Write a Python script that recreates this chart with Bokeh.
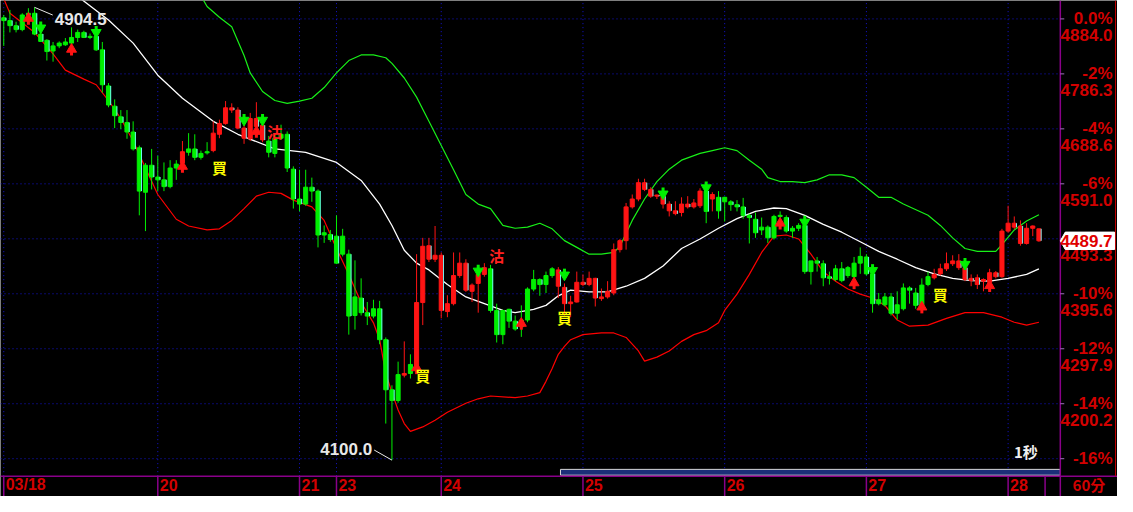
from bokeh.plotting import figure
from bokeh.models import ColumnDataSource
from bokeh.core.properties import value
from bokeh.transform import dodge
from bokeh.embed import file_html
from bokeh.resources import INLINE

# ---------------- data (60-minute candles) ----------------
opens = [4886, 4881, 4872, 4865, 4891, 4894, 4857, 4846, 4827, 4836, 4838, 4841, 4851, 4860, 4851, 4853, 4829, 4765, 4729, 4710,
         4700, 4683, 4655, 4576, 4624, 4603, 4598, 4586, 4619, 4628, 4647, 4653, 4638, 4646, 4650, 4679, 4698, 4726, 4722, 4690,
         4671, 4707, 4695, 4667, 4645, 4672, 4679, 4617, 4564, 4555, 4585, 4578, 4500, 4501, 4498, 4466, 4466, 4357, 4388, 4362,
         4356, 4369, 4314, 4225, 4206, 4251, 4254, 4268, 4380, 4481, 4457, 4464, 4364, 4378, 4428, 4450, 4400, 4414, 4430, 4440,
         4366, 4323, 4368, 4347, 4337, 4349, 4404, 4421, 4412, 4428, 4438, 4407, 4378, 4381, 4416, 4412, 4423, 4387, 4390, 4397,
         4474, 4490, 4550, 4564, 4593, 4581, 4571, 4569, 4555, 4543, 4540, 4555, 4550, 4552, 4578, 4564, 4567, 4559, 4559, 4554,
         4550, 4535, 4528, 4509, 4514, 4495, 4533, 4531, 4507, 4512, 4517, 4435, 4454, 4449, 4426, 4421, 4440, 4428, 4426, 4450,
         4461, 4431, 4378, 4376, 4390, 4361, 4369, 4406, 4397, 4375, 4412, 4424, 4431, 4440, 4449, 4454, 4442, 4423, 4424, 4418,
         4416, 4433, 4426, 4507, 4521, 4516, 4485, 4512, 4511]
highs = [4891, 4900, 4879, 4894, 4903, 4904.5, 4865, 4848, 4843, 4844, 4850, 4869, 4865, 4863, 4858, 4865, 4843, 4770, 4741, 4722,
         4722, 4702, 4659, 4628, 4653, 4641, 4629, 4633, 4633, 4667, 4681, 4679, 4650, 4665, 4702, 4705, 4738, 4734, 4727, 4696,
         4717, 4736, 4702, 4676, 4681, 4696, 4684, 4622, 4616, 4616, 4602, 4581, 4517, 4509, 4535, 4511, 4474, 4455, 4423, 4381,
         4385, 4383, 4318, 4233, 4275, 4311, 4288, 4466, 4495, 4495, 4516, 4469, 4393, 4469, 4469, 4457, 4414, 4443, 4450, 4447,
         4378, 4367, 4369, 4357, 4375, 4407, 4438, 4423, 4435, 4443, 4443, 4414, 4392, 4435, 4430, 4435, 4424, 4405, 4418, 4485,
         4493, 4557, 4572, 4600, 4600, 4585, 4572, 4581, 4560, 4560, 4567, 4569, 4564, 4583, 4585, 4576, 4578, 4568, 4562, 4562,
         4566, 4538, 4540, 4531, 4517, 4536, 4542, 4535, 4516, 4521, 4528, 4454, 4461, 4455, 4435, 4447, 4452, 4445, 4461, 4478,
         4466, 4435, 4397, 4397, 4397, 4400, 4414, 4409, 4406, 4423, 4435, 4440, 4449, 4469, 4464, 4466, 4445, 4430, 4430, 4423,
         4440, 4436, 4511, 4552, 4533, 4526, 4521, 4517, 4511]
lows = [4836, 4860, 4860, 4862, 4886, 4855, 4843, 4810, 4808, 4832, 4836, 4838, 4843, 4850, 4848, 4827, 4753, 4727, 4690, 4688,
        4671, 4650, 4535, 4507, 4581, 4578, 4578, 4583, 4598, 4624, 4641, 4633, 4634, 4643, 4647, 4672, 4696, 4717, 4688, 4662,
        4667, 4690, 4665, 4638, 4638, 4669, 4612, 4547, 4542, 4552, 4559, 4478, 4486, 4488, 4449, 4462, 4323, 4332, 4357, 4340,
        4352, 4306, 4165, 4100.0, 4202, 4247, 4245, 4263, 4340, 4452, 4452, 4352, 4354, 4375, 4424, 4399, 4381, 4362, 4426, 4362,
        4309, 4306, 4335, 4330, 4319, 4345, 4400, 4392, 4397, 4424, 4388, 4357, 4354, 4380, 4409, 4409, 4373, 4383, 4387, 4393,
        4469, 4474, 4547, 4560, 4578, 4566, 4564, 4547, 4533, 4535, 4533, 4547, 4547, 4548, 4521, 4542, 4529, 4524, 4543, 4542,
        4529, 4485, 4495, 4500, 4486, 4492, 4528, 4504, 4495, 4507, 4431, 4412, 4435, 4409, 4412, 4418, 4416, 4424, 4423, 4431,
        4428, 4362, 4375, 4373, 4357, 4350, 4366, 4378, 4369, 4369, 4409, 4421, 4428, 4436, 4445, 4438, 4418, 4409, 4404, 4400,
        4412, 4423, 4424, 4504, 4510, 4481, 4483, 4498, 4488]
closes = [4881, 4872, 4865, 4891, 4894, 4857, 4844, 4826, 4836, 4841, 4843, 4851, 4860, 4851, 4853, 4829, 4767, 4731, 4712, 4700,
          4683, 4653, 4578, 4624, 4603, 4598, 4586, 4619, 4626, 4648, 4653, 4638, 4645, 4648, 4681, 4698, 4726, 4722, 4690, 4672,
          4707, 4693, 4669, 4647, 4672, 4679, 4619, 4564, 4555, 4585, 4578, 4500, 4504, 4492, 4450, 4498, 4356, 4390, 4362, 4356,
          4369, 4314, 4225, 4206, 4252, 4254, 4270, 4380, 4480, 4457, 4464, 4366, 4378, 4428, 4450, 4402, 4411, 4430, 4442, 4366,
          4323, 4366, 4347, 4333, 4349, 4404, 4421, 4412, 4428, 4440, 4409, 4378, 4381, 4416, 4412, 4423, 4388, 4390, 4400, 4474,
          4490, 4550, 4564, 4593, 4581, 4569, 4569, 4555, 4543, 4538, 4555, 4550, 4557, 4578, 4542, 4572, 4543, 4567, 4554, 4550,
          4535, 4531, 4504, 4514, 4495, 4533, 4535, 4507, 4512, 4517, 4435, 4454, 4450, 4424, 4423, 4440, 4419, 4442, 4450, 4462,
          4431, 4378, 4385, 4390, 4361, 4376, 4406, 4402, 4375, 4411, 4426, 4430, 4440, 4449, 4454, 4442, 4421, 4419, 4412, 4421,
          4433, 4426, 4507, 4521, 4514, 4485, 4512, 4516, 4489.7]
# signal state per run of candles: B = after a buy signal (red), S = after a sell signal (green)
state_runs = [("S", 29), ("B", 1), ("S", 4), ("B", 9), ("S", 22), ("B", 1), ("S", 1), ("B", 12),
              ("S", 11), ("B", 24), ("S", 1), ("B", 1), ("S", 35), ("B", 18)]

# Bollinger bands (read at sample candles)
mid_idx = [12, 17, 21, 25, 29, 34, 38, 44, 49, 54, 58, 61, 63, 65, 67, 69, 72, 75, 78, 81, 83, 86, 88, 90, 92, 95, 98, 101,
           104, 107, 110, 113, 116, 119, 122, 125, 127, 130, 133, 136, 139, 142, 145, 148, 151, 154, 157, 160, 163, 166, 168]
mid_val = [4924, 4882, 4841, 4784, 4743, 4702, 4679, 4653, 4647, 4629, 4597, 4555, 4517, 4473, 4450, 4438, 4412, 4390, 4378,
           4366, 4362, 4368, 4375, 4392, 4402, 4399, 4399, 4409, 4423, 4445, 4476, 4493, 4512, 4529, 4542, 4548, 4547, 4535,
           4519, 4505, 4488, 4471, 4457, 4442, 4431, 4423, 4419, 4418, 4423, 4430, 4440]
low_idx = [0, 1, 3, 5, 8, 10, 13, 15, 17, 19, 21, 23, 25, 28, 30, 33, 35, 37, 39, 41, 43, 45, 47, 50, 52, 54, 56, 58, 60, 61,
           62, 63, 64, 65, 66, 68, 70, 72, 75, 77, 79, 83, 85, 87, 88, 89, 90, 91, 92, 94, 97, 99, 101, 103, 104, 106, 108, 110,
           112, 114, 116, 117, 119, 121, 123, 125, 127, 129, 131, 133, 135, 137, 139, 141, 143, 145, 147, 150, 153, 156, 159,
           162, 164, 166, 168]
low_val = [4920, 4894, 4877, 4860, 4822, 4793, 4777, 4767, 4739, 4707, 4667, 4619, 4572, 4528, 4516, 4509, 4511, 4526, 4547,
           4569, 4576, 4574, 4562, 4550, 4526, 4476, 4430, 4380, 4344, 4314, 4254, 4220, 4189, 4165, 4151, 4159, 4171, 4185,
           4201, 4209, 4214, 4211, 4214, 4220, 4240, 4263, 4288, 4302, 4314, 4323, 4326, 4326, 4318, 4294, 4276, 4283, 4294,
           4311, 4323, 4330, 4344, 4366, 4395, 4430, 4469, 4498, 4500, 4493, 4466, 4435, 4418, 4404, 4395, 4388, 4375, 4349,
           4338, 4340, 4352, 4362, 4362, 4354, 4345, 4340, 4345]
up_idx = [32, 33, 35, 37, 39, 40, 42, 44, 46, 48, 50, 52, 54, 56, 58, 60, 62, 63, 65, 67, 69, 71, 73, 75, 77, 79, 81, 83, 85,
          87, 89, 91, 93, 95, 97, 99, 100, 102, 104, 106, 108, 110, 113, 115, 117, 119, 121, 123, 124, 126, 128, 130, 132,
          134, 136, 138, 140, 142, 144, 146, 150, 152, 154, 156, 158, 161, 162, 164, 166, 168]
up_val = [4925, 4906, 4887, 4870, 4819, 4788, 4755, 4739, 4734, 4738, 4743, 4762, 4788, 4810, 4820, 4820, 4815, 4805, 4779,
          4745, 4702, 4659, 4616, 4572, 4555, 4547, 4517, 4512, 4514, 4521, 4511, 4490, 4478, 4466, 4466, 4469, 4480, 4526,
          4564, 4595, 4617, 4633, 4645, 4650, 4655, 4650, 4633, 4617, 4602, 4595, 4595, 4593, 4598, 4607, 4607, 4602, 4585,
          4567, 4567, 4555, 4535, 4517, 4495, 4476, 4471, 4471, 4483, 4509, 4525, 4536]

# signal marks
buy_arrow_idx = [4, 11, 29, 41, 67, 84, 126, 138, 149, 160]
buy_arrow_tip = [4891, 4836, 4628, 4690, 4270, 4349, 4527, 4421, 4378, 4416]
sell_arrow_idx = [6, 15, 39, 42, 77, 91, 107, 114, 130, 141, 156]
sell_arrow_tip = [4862, 4854, 4698, 4698, 4430, 4423, 4567, 4578, 4517, 4431, 4442]
buy_text_idx = [35, 68, 91, 152]
buy_text_price = [4620, 4251, 4354, 4395]
sell_text_idx = [44, 80]
sell_text_price = [4684, 4464]

# axes
day_starts = [0, 25, 48, 54, 71, 94, 117, 140, 163]
day_labels = ["03/18", "20", "21", "23", "24", "25", "26", "27", "28"]
base_price = 4884.0
pct_steps = [0, -2, -4, -6, -8, -10, -12, -14, -16]
pct_labels = ["0.0%", "-2%", "-4%", "-6%", "-8%", "-10%", "-12%", "-14%", "-16%"]
price_labels = ["4884.0", "4786.3", "4688.6", "4591.0", "4493.3", "4395.6", "4297.9", "4200.2"]

# ---------------- layout helpers (reference pixel space -> data space) ----------------
W, H = 1117, 496
REF_W, REF_H = 1133, 512
ORG, STEP = 3.3, 6.25         # px of first candle, px per candle
TOP, PPX = 4916.7, 1.7213     # price at top edge, price per px


def ix(px):
    return (px - ORG) / STEP


def py(px):
    return TOP - PPX * px


X0, X1 = ix(0), ix(REF_W)
Y0, Y1 = py(REF_H), py(0)
AX = ix(1075)      # right axis line
AY = py(491)       # bottom axis line

RED = "#ff1414"
GRN = "#00f000"
AXRED = "#d20000"
PURPLE = "#8a008a"
GRID = "#1414d2"
NUMFONT = value("Liberation Sans")
CJK = value("Noto Sans CJK TC")

p = figure(width=W, height=H, x_range=(X0, X1), y_range=(Y0, Y1),
           output_backend="svg", toolbar_location=None,
           x_axis_location=None, y_axis_location=None,
           min_border=0, background_fill_color="black",
           border_fill_color="black", outline_line_color=None)
p.xgrid.visible = False
p.ygrid.visible = False

# grid
grid_prices = [base_price * (1 + s / 100.0) for s in pct_steps]
p.segment(x0=[X0] * len(grid_prices), y0=grid_prices, x1=[AX] * len(grid_prices), y1=grid_prices,
          line_color=GRID, line_dash="1 3", line_width=1)
p.segment(x0=day_starts, y0=[AY] * len(day_starts), x1=day_starts, y1=[Y1] * len(day_starts),
          line_color=GRID, line_dash="1 3", line_width=1)

# bands
p.line(up_idx, up_val, line_color="#18f018", line_width=1.2)
p.line(low_idx, low_val, line_color="#ff0000", line_width=1.2)
p.line(mid_idx, mid_val, line_color="#ffffff", line_width=1.3)

# candles
n = len(opens)
state = [s for s, k in state_runs for _ in range(k)]
cols = [RED if s == "B" else GRN for s in state]
tops = [max(o, c) for o, c in zip(opens, closes)]
bots = [min(o, c) for o, c in zip(opens, closes)]
src = ColumnDataSource(dict(i=list(range(n)), h=highs, l=lows, top=tops, bot=bots, col=cols))
p.segment(x0="i", y0="h", x1="i", y1="l", line_color="col", line_width=1, source=src)
p.vbar(x="i", width=0.66, top="top", bottom="bot", fill_color="col", line_color="col", line_width=1, source=src)
down = [k for k in range(n) if closes[k] < opens[k]]
dsrc = ColumnDataSource(dict(i=down, top=[tops[k] for k in down], bot=[bots[k] for k in down]))
p.vbar(x=dodge("i", 0.36, range=p.x_range), width=0.15, top="top", bottom="bot",
       fill_color="#70ffff", line_color=None, source=dsrc)

# signal arrows
p.segment(x0=buy_arrow_idx, y0=[t - 5 * PPX for t in buy_arrow_tip],
          x1=buy_arrow_idx, y1=[t - 10 * PPX for t in buy_arrow_tip], line_color=RED, line_width=3)
p.scatter(buy_arrow_idx, [t - 3.5 * PPX for t in buy_arrow_tip], marker="triangle", size=10,
          fill_color=RED, line_color=RED)
p.segment(x0=sell_arrow_idx, y0=[t + 5 * PPX for t in sell_arrow_tip],
          x1=sell_arrow_idx, y1=[t + 10 * PPX for t in sell_arrow_tip], line_color=GRN, line_width=3)
p.scatter(sell_arrow_idx, [t + 3.5 * PPX for t in sell_arrow_tip], marker="inverted_triangle", size=10,
          fill_color=GRN, line_color=GRN)

p.text(x=buy_text_idx, y=buy_text_price, text=["買"] * len(buy_text_idx), text_color="#ffff00",
       text_font=CJK, text_font_size="15px", text_font_style="bold", text_align="center", text_baseline="middle")
p.text(x=sell_text_idx, y=sell_text_price, text=["沽"] * len(sell_text_idx), text_color="#ff2020",
       text_font=CJK, text_font_size="15px", text_font_style="bold", text_align="center", text_baseline="middle")

# extreme labels
hi_i = max(range(n), key=lambda k: highs[k])
lo_i = min(range(n), key=lambda k: lows[k])
p.segment(x0=[hi_i], y0=[highs[hi_i]], x1=[ix(53)], y1=[py(15)], line_color="#e8e8e8", line_width=1)
p.text(x=[ix(55)], y=[py(19)], text=["%.1f" % highs[hi_i]], text_color="#e8e8e8", text_font=NUMFONT,
       text_font_size="17px", text_font_style="bold", text_align="left", text_baseline="middle")
p.segment(x0=[lo_i], y0=[lows[lo_i]], x1=[ix(379)], y1=[py(464)], line_color="#e8e8e8", line_width=1)
p.text(x=[ix(377)], y=[py(463)], text=["%.1f" % lows[lo_i]], text_color="#e8e8e8", text_font=NUMFONT,
       text_font_size="17px", text_font_style="bold", text_align="right", text_baseline="middle")
p.text(x=[ix(1040)], y=[py(466)], text=["1秒"], text_color="#f0f0f0", text_font=CJK,
       text_font_size="15px", text_font_style="bold", text_align="center", text_baseline="middle")

# scroll bar
p.quad(left=[ix(568)], right=[AX], top=[py(484)], bottom=[py(490)], fill_color="#1b2f78",
       line_color="#d8d8d8", line_width=1)

# axes frame
p.segment(x0=[AX], y0=[Y0], x1=[AX], y1=[Y1], line_color=PURPLE, line_width=1.5)
p.segment(x0=[X0], y0=[AY], x1=[X1], y1=[AY], line_color=PURPLE, line_width=1.5)
p.segment(x0=[ix(1131)], y0=[AY], x1=[ix(1131)], y1=[Y1], line_color="#c00000", line_width=1)
ticks = day_starts + [n]
p.segment(x0=ticks, y0=[AY] * len(ticks), x1=ticks, y1=[Y0] * len(ticks), line_color=PURPLE, line_width=1.5)
p.text(x=[d + 2.0 / STEP for d in day_starts], y=[py(500)] * len(day_starts), text=day_labels,
       text_color=AXRED, text_font=NUMFONT, text_font_size="16px", text_font_style="bold",
       text_align="left", text_baseline="middle")
p.text(x=[ix(1104)], y=[py(500)], text=["60分"], text_color=AXRED, text_font=CJK,
       text_font_size="15px", text_font_style="bold", text_align="center", text_baseline="middle")

# right price scale
show = [k for k in range(len(pct_labels)) if k != 4]
p.segment(x0=[AX] * len(grid_prices), y0=grid_prices, x1=[ix(1079)] * len(grid_prices), y1=grid_prices,
          line_color="#a070c0", line_width=1)
p.text(x=[ix(1128)] * len(show), y=[grid_prices[k] for k in show], text=[pct_labels[k] for k in show],
       text_color=AXRED, text_font=NUMFONT, text_font_size="17px", text_font_style="bold",
       text_align="right", text_baseline="middle")
p.text(x=[ix(1128)] * len(price_labels), y=[g - 17 * PPX for g in grid_prices[:len(price_labels)]],
       text=price_labels, text_color=AXRED, text_font=NUMFONT, text_font_size="17px",
       text_font_style="bold", text_align="right", text_baseline="middle")

# last price tag
last = closes[-1]
p.patch(x=[ix(1075), ix(1080), ix(1130), ix(1130), ix(1080)],
        y=[last, last + 9 * PPX, last + 9 * PPX, last - 9 * PPX, last - 9 * PPX],
        fill_color="#ffffff", line_color="#ffffff")
p.text(x=[ix(1128)], y=[last], text=["%.1f" % last], text_color="#e00000", text_font=NUMFONT,
       text_font_size="17px", text_font_style="bold", text_align="right", text_baseline="middle")

open("out.html", "w").write(file_html(p, INLINE))
